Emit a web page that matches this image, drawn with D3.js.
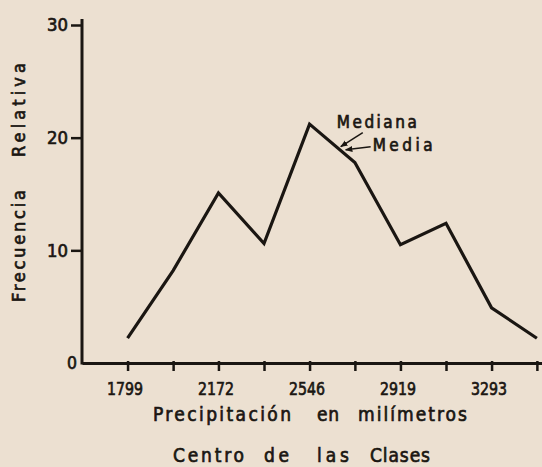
<!DOCTYPE html>
<html>
<head>
<meta charset="utf-8">
<script src="https://cdn.jsdelivr.net/npm/d3@7"></script>
<style>
  body { margin: 0; background: #ece0d1; }
  svg { display: block; }
  text { font-family: "DejaVu Sans Condensed", "DejaVu Sans", sans-serif; fill: #1a1612; stroke: #1a1612; stroke-width: 0.65px; }
</style>
</head>
<body>
<div id="chart"></div>
<script>
// class centres (mm) and relative frequency (%)
var classCentres = [1799, 1986, 2172, 2359, 2546, 2732, 2919, 3106, 3293, 3479];
var frequency    = [2.2, 8.2, 15.1, 10.6, 21.2, 17.8, 10.5, 12.4, 4.9, 2.2];
var labelledTicks = [1799, 2172, 2546, 2919, 3293];
var yTicks = [0, 10, 20, 30];
var median = 2670;
var mean = 2690;

var w = 542;
var h = 467;
var ink = "#1a1612";

var svg = d3.select("#chart")
            .append("svg")
            .attr("width", w)
            .attr("height", h);

var x = d3.scaleLinear().domain([1612, 3500]).range([82, 542]);
var y = d3.scaleLinear().domain([0, 30]).range([363, 25]);

var tickFont = '"DejaVu Sans Condensed", "DejaVu Sans", sans-serif';

// x axis
var xAxis = d3.axisBottom(x)
    .tickValues(classCentres)
    .tickSize(8)
    .tickSizeOuter(0)
    .tickPadding(11)
    .tickFormat(function(d) { return labelledTicks.indexOf(d) >= 0 ? d : ""; });

var gx = svg.append("g")
    .attr("transform", "translate(0," + y(0) + ")")
    .call(xAxis);
gx.select(".domain").attr("stroke", ink).attr("stroke-width", 3);
gx.selectAll(".tick line").attr("stroke", ink).attr("stroke-width", 2.5).attr("y1", -2);
gx.selectAll(".tick text")
    .attr("fill", ink)
    .attr("dx", -3)
    .attr("textLength", function(d) { return labelledTicks.indexOf(d) >= 0 ? 36 : null; })
    .attr("lengthAdjust", "spacingAndGlyphs")
    .style("font-size", "18px")
    .style("font-family", tickFont);

// y axis
var yAxis = d3.axisLeft(y)
    .tickValues(yTicks)
    .tickSize(11)
    .tickSizeOuter(0)
    .tickPadding(3);

var gy = svg.append("g")
    .attr("transform", "translate(" + x(1612) + ",0)")
    .call(yAxis);
gy.select(".domain").remove();
gy.selectAll(".tick line").attr("stroke", ink).attr("stroke-width", 2.5)
    .attr("display", function(d) { return d == 0 ? "none" : null; });
gy.selectAll(".tick text")
    .attr("fill", ink)
    .attr("x", function(d) { return d == 0 ? -5 : -14; })
    .attr("textLength", function(d) { return d == 0 ? 10 : 21; })
    .attr("lengthAdjust", "spacingAndGlyphs")
    .style("font-size", "18px")
    .style("font-family", tickFont);

svg.append("line")
    .attr("x1", x(1612)).attr("x2", x(1612))
    .attr("y1", y(0) + 1.5).attr("y2", y(30) - 6)
    .attr("stroke", ink)
    .attr("stroke-width", 3);

// frequency polygon
var points = classCentres.map(function(d, i) { return [d, frequency[i]]; });

var line = d3.line()
    .x(function(d) { return x(d[0]); })
    .y(function(d) { return y(d[1]); });

svg.append("path")
    .datum(points)
    .attr("d", line)
    .attr("fill", "none")
    .attr("stroke", ink)
    .attr("stroke-width", 3.2)
    .attr("stroke-linejoin", "miter");

// value of the polygon at a given x
function onLine(v) {
    var i = d3.bisectRight(classCentres, v) - 1;
    var t = (v - classCentres[i]) / (classCentres[i + 1] - classCentres[i]);
    return frequency[i] + t * (frequency[i + 1] - frequency[i]);
}

svg.append("defs").append("marker")
    .attr("id", "head")
    .attr("viewBox", "0 0 10 10")
    .attr("refX", 9).attr("refY", 5)
    .attr("markerWidth", 5).attr("markerHeight", 5)
    .attr("orient", "auto")
    .append("path")
    .attr("d", "M0,1 L10,5 L0,9 z")
    .attr("fill", ink);

var mx = x(median), my = y(onLine(median)) - 3;
var ax = x(mean), ay = y(onLine(mean)) - 3;

svg.append("line")
    .attr("x1", mx + 23).attr("y1", my - 14)
    .attr("x2", mx + 1).attr("y2", my)
    .attr("stroke", ink).attr("stroke-width", 1.5)
    .attr("marker-end", "url(#head)");
svg.append("text")
    .attr("x", mx - 3).attr("y", my - 19)
    .attr("font-size", 17)
    .attr("textLength", 80)
    .attr("lengthAdjust", "spacing")
    .text("Mediana");

svg.append("line")
    .attr("x1", ax + 26).attr("y1", ay - 4)
    .attr("x2", ax + 1).attr("y2", ay - 1)
    .attr("stroke", ink).attr("stroke-width", 1.5)
    .attr("marker-end", "url(#head)");
svg.append("text")
    .attr("x", ax + 28).attr("y", ay)
    .attr("font-size", 17)
    .attr("textLength", 60)
    .attr("lengthAdjust", "spacing")
    .text("Media");

// axis titles, word by word to keep the wide lettering
function words(list, baseline) {
    list.forEach(function(d) {
        svg.append("text")
            .attr("x", d[1])
            .attr("y", baseline)
            .attr("font-size", 19)
            .attr("textLength", d[2] - d[1])
            .attr("lengthAdjust", "spacing")
            .text(d[0]);
    });
}

words([["Precipitación", 153, 291], ["en", 317, 339], ["milímetros", 358, 467]], 421);
words([["Centro", 173, 244], ["de", 264, 289], ["las", 317, 349], ["Clases", 370, 430]], 462);

var yt = svg.append("g").attr("transform", "translate(25,0) rotate(-90)");
[["Frecuencia", 190, 302], ["Relativa", 63, 157]].forEach(function(d) {
    yt.append("text")
        .attr("x", -d[2])
        .attr("y", 0)
        .attr("font-size", 18)
        .attr("textLength", d[2] - d[1])
        .attr("lengthAdjust", "spacing")
        .text(d[0]);
});
</script>
</body>
</html>
